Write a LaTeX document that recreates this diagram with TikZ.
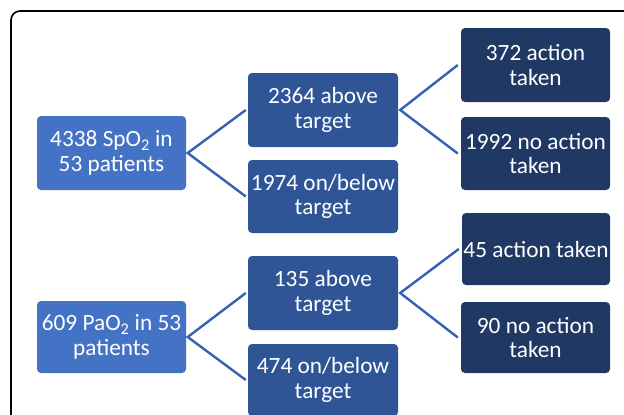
\documentclass[tikz,border=0pt]{standalone}
\usepackage{fontspec}
\setmainfont{Carlito}
\definecolor{boxA}{HTML}{4472C4}
\definecolor{boxB}{HTML}{2F5597}
\definecolor{boxC}{HTML}{203864}
\definecolor{link}{HTML}{3462B0}
\begin{document}
\begin{tikzpicture}[x=1pt,y=-1pt,
  box/.style={rounded corners=4pt, text=white, align=center, inner sep=0pt,
    font=\fontsize{23.3}{24.5}\selectfont},
  lvA/.style={box, fill=boxA, minimum width=149pt},
  lvB/.style={box, fill=boxB, minimum width=150pt},
  lvC/.style={box, fill=boxC, minimum width=149pt},
  conn/.style={draw=link, line width=2.4pt}]
\useasboundingbox (0,0) rectangle (624,415);
\fill[white] (0,0) rectangle (624,415);
\draw[line width=1.6pt, rounded corners=9pt] (11,11) rectangle (650,440);
% top tree
\node[lvA, minimum height=74pt] (a1) at (111.5,153) {4338 SpO\textsubscript{2} in\\53 patients};
\node[lvB, minimum height=74pt] (b1) at (323,110) {2364 above\\target};
\node[lvB, minimum height=73pt] (b2) at (323,196.5) {1974 on/below\\target};
\node[lvC, minimum height=74pt] (c1) at (535.5,65) {372 action\\taken};
\node[lvC, minimum height=73pt] (c2) at (535.5,153.5) {1992 no action\\taken};
% bottom tree
\node[lvA, minimum height=72pt] (a2) at (111.5,337) {609 PaO\textsubscript{2} in 53\\patients};
\node[lvB, minimum height=74pt] (b3) at (323,293) {135 above\\target};
\node[lvB, minimum height=72pt] (b4) at (323,380) {474 on/below\\target};
\node[lvC, minimum height=72pt, minimum width=148pt] (c3) at (536,249) {45 action taken};
\node[lvC, minimum height=71pt] (c4) at (535.5,337.5) {90 no action\\taken};
% connectors
\draw[conn] ([xshift=-2pt]b1.west) -- ([xshift=1.5pt]a1.east) -- ([xshift=-2pt]b2.west);
\draw[conn] ([xshift=-3pt]c1.west) -- ([xshift=2pt]b1.east) -- ([xshift=-3pt]c2.west);
\draw[conn] ([xshift=-2pt]b3.west) -- ([xshift=1.5pt]a2.east) -- ([xshift=-2pt]b4.west);
\draw[conn] ([xshift=-3pt]c3.west) -- ([xshift=2pt]b3.east) -- ([xshift=-3pt]c4.west);
\end{tikzpicture}
\end{document}
